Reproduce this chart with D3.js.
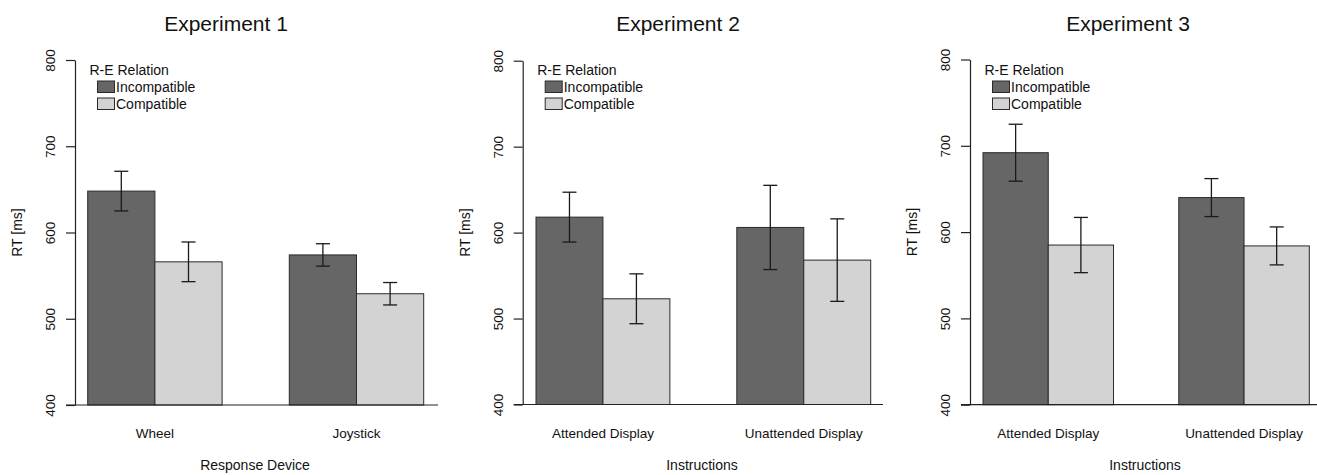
<!DOCTYPE html>
<html>
<head>
<meta charset="utf-8">
<script src="https://cdn.jsdelivr.net/npm/d3@7"></script>
<style>
  body { margin: 0; background: #fff; }
  svg { display: block; font-family: "Liberation Sans", Arial, sans-serif; }
</style>
</head>
<body>
<svg id="chart" width="1317" height="475"></svg>
<script>
// data
const titles = ["Experiment 1", "Experiment 2", "Experiment 3"];
const categories = [["Wheel", "Joystick"], ["Attended Display", "Unattended Display"], ["Attended Display", "Unattended Display"]];
const xTitles = ["Response Device", "Instructions", "Instructions"];
const series = ["Incompatible", "Compatible"];
const incompatible = [[648, 574], [618, 606], [692, 640]];
const compatible = [[566, 529], [523, 568], [585, 584]];
const incompatibleErr = [[23, 13], [29, 49], [33, 22]];
const compatibleErr = [[23, 13], [29, 48], [32, 22]];
const yTicks = [400, 500, 600, 700, 800];

const colors = ["#666666", "#d3d3d3"];

// layout of each panel (pixels)
const panels = [
  { axisX: 75, top: 60, bottom: 405, barL: 87.7, barR: 423.7, lineR: 438, titleX: 226, xTitleX: 255 },
  { axisX: 522.7, top: 60.7, bottom: 404.5, barL: 536, barR: 870.7, lineR: 883, titleX: 678, xTitleX: 702 },
  { axisX: 970, top: 59.5, bottom: 404.7, barL: 983, barR: 1309.3, lineR: 1317, titleX: 1128, xTitleX: 1145 }
];

const svg = d3.select("#chart");

panels.forEach((p, i) => {
  const g = svg.append("g");
  const y = d3.scaleLinear().domain([400, 800]).range([p.bottom, p.top]);
  const x0 = d3.scaleBand().domain(categories[i]).range([p.barL, p.barR]).paddingInner(1 / 3).paddingOuter(0);
  const x1 = d3.scaleBand().domain(series).range([0, x0.bandwidth()]);

  const rows = categories[i].map((c, j) => [
    { cat: c, s: series[0], v: incompatible[i][j], e: incompatibleErr[i][j] },
    { cat: c, s: series[1], v: compatible[i][j], e: compatibleErr[i][j] }
  ]).flat();

  // bars
  g.selectAll("rect.bar").data(rows).join("rect")
    .attr("class", "bar")
    .attr("x", d => x0(d.cat) + x1(d.s))
    .attr("y", d => y(d.v))
    .attr("width", x1.bandwidth())
    .attr("height", d => y(400) - y(d.v))
    .attr("fill", d => colors[series.indexOf(d.s)])
    .attr("stroke", "#2a2a2a").attr("stroke-width", 1);

  // error bars
  const eb = g.selectAll("g.err").data(rows).join("g").attr("class", "err")
    .attr("stroke", "#1a1a1a").attr("stroke-width", 1.3);
  const cx = d => x0(d.cat) + x1(d.s) + x1.bandwidth() / 2;
  eb.append("line").attr("x1", cx).attr("x2", cx).attr("y1", d => y(d.v + d.e)).attr("y2", d => y(d.v - d.e));
  eb.append("line").attr("x1", d => cx(d) - 7).attr("x2", d => cx(d) + 7).attr("y1", d => y(d.v + d.e)).attr("y2", d => y(d.v + d.e));
  eb.append("line").attr("x1", d => cx(d) - 7).attr("x2", d => cx(d) + 7).attr("y1", d => y(d.v - d.e)).attr("y2", d => y(d.v - d.e));

  // y axis
  const yAxis = g.append("g").attr("transform", `translate(${p.axisX},0)`)
    .call(d3.axisLeft(y).tickValues(yTicks).tickSize(9).tickSizeOuter(0).tickPadding(11));
  yAxis.select(".domain").attr("stroke", "#222").attr("stroke-width", 1.2);
  yAxis.selectAll(".tick line").attr("stroke", "#222").attr("stroke-width", 1.2);
  yAxis.selectAll(".tick text")
    .attr("font-size", 13.5).attr("fill", "#111")
    .attr("transform", "rotate(-90)")
    .attr("x", 0).attr("y", -20).attr("dy", 0)
    .attr("text-anchor", "middle");

  // baseline
  g.append("line").attr("x1", p.axisX - 9).attr("x2", p.lineR)
    .attr("y1", y(400)).attr("y2", y(400)).attr("stroke", "#222").attr("stroke-width", 1.2);

  // y title
  g.append("text")
    .attr("transform", `translate(${p.axisX - 53},${(y(400) + y(800)) / 2}) rotate(-90)`)
    .attr("text-anchor", "middle").attr("font-size", 14).attr("fill", "#111")
    .text("RT [ms]");

  // category labels
  g.selectAll("text.cat").data(categories[i]).join("text")
    .attr("class", "cat")
    .attr("x", d => x0(d) + x0.bandwidth() / 2).attr("y", 438)
    .attr("text-anchor", "middle").attr("font-size", 13.5).attr("fill", "#111")
    .text(d => d);

  // x title
  g.append("text").attr("x", p.xTitleX).attr("y", 470)
    .attr("text-anchor", "middle").attr("font-size", 14).attr("fill", "#111")
    .text(xTitles[i]);

  // title
  g.append("text").attr("x", p.titleX).attr("y", 31)
    .attr("text-anchor", "middle").attr("font-size", 21).attr("fill", "#111")
    .text(titles[i]);

  // legend
  const lg = g.append("g").attr("transform", `translate(${p.axisX},0)`);
  lg.append("text").attr("x", 14.5).attr("y", 75).attr("font-size", 14).attr("fill", "#111").text("R-E Relation");
  series.forEach((s, k) => {
    lg.append("rect").attr("x", 22.5).attr("y", 81 + k * 17).attr("width", 17).attr("height", 11.5)
      .attr("fill", colors[k]).attr("stroke", "#2a2a2a").attr("stroke-width", 1);
    lg.append("text").attr("x", 41).attr("y", 92 + k * 17).attr("font-size", 14).attr("fill", "#111").text(s);
  });
});
</script>
</body>
</html>
